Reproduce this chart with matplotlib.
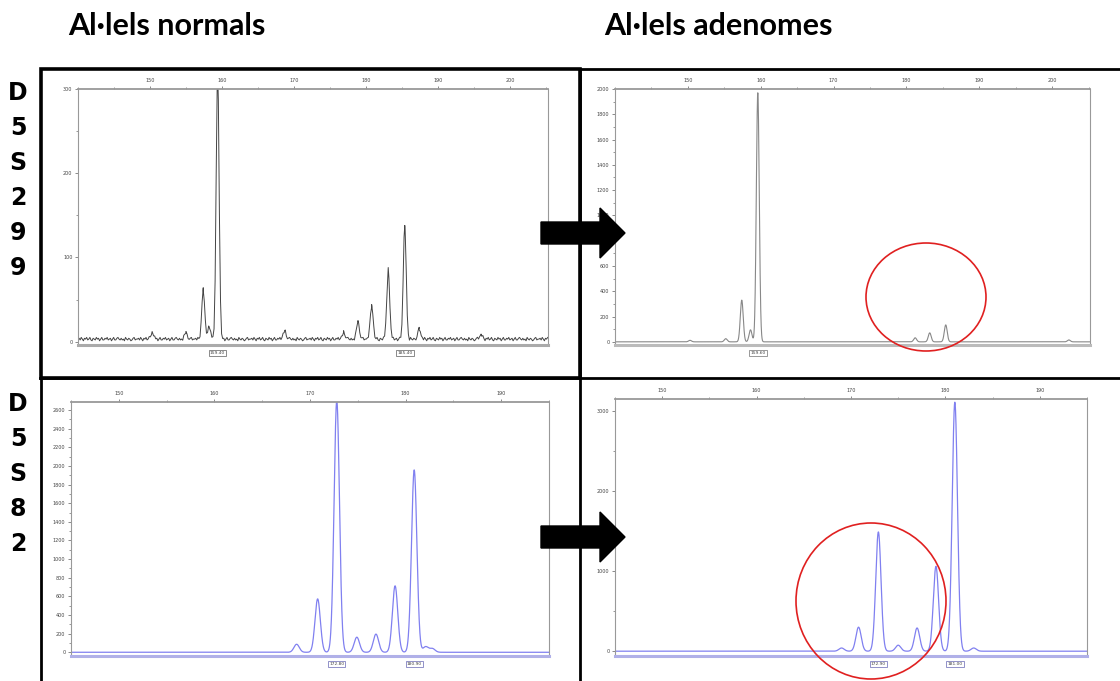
import numpy as np
import matplotlib
matplotlib.use("Agg")
import matplotlib.pyplot as plt
from matplotlib.patches import Polygon, Ellipse, Rectangle
from matplotlib.ticker import MultipleLocator, FixedLocator

W, H = 1120, 681

# --- peak tables (size in bp, height in RFU) ---
# D5S299, normal tissue
d299_norm_pos = [150.3, 155.0, 157.4, 158.2, 159.4, 168.7, 176.9, 178.9, 180.8, 183.1, 185.4, 187.4, 196.0]
d299_norm_hgt = [8, 8, 59, 15, 320, 10, 8, 21, 40, 83, 135, 12, 5]
d299_norm_called = [159.4, 185.4]
# baseline noise of the normal D5S299 run
d299_noise = [3, 4, 2, 5, 3, 1, 4, 3, 5, 2, 3, 5, 2, 1, 4, 3, 2, 5, 3, 4,
              1, 3, 5, 2, 2, 4, 3, 5, 2, 3, 4, 1, 3, 5, 2, 2, 4, 5, 3, 2,
              4, 2, 3, 1, 5, 3, 2, 4, 3, 1, 2, 4, 5, 2, 3]

# D5S299, adenoma
d299_aden_pos = [150.3, 155.2, 157.4, 158.6, 159.6, 181.2, 183.2, 185.4, 202.3]
d299_aden_hgt = [12, 25, 330, 95, 1970, 32, 71, 134, 15]
d299_aden_called = [159.6]

# D5S82, normal tissue
d82_norm_pos = [168.6, 170.8, 172.8, 174.9, 176.9, 178.9, 180.9, 182.1, 182.8]
d82_norm_hgt = [86, 573, 2700, 162, 195, 713, 1957, 60, 40]
d82_norm_called = [172.8, 180.9]

# D5S82, adenoma
d82_aden_pos = [169.0, 170.8, 172.9, 175.0, 177.0, 179.0, 181.0, 183.0]
d82_aden_hgt = [40, 300, 1490, 75, 290, 1060, 3110, 40]
d82_aden_called = [172.9, 181.0]

row_labels = [["D", "5", "S", "2", "9", "9"], ["D", "5", "S", "8", "2"]]
col_titles = ["Al·lels normals", "Al·lels adenomes"]


def rect(l, t, r, b):
    return [l / W, 1 - b / H, (r - l) / W, (b - t) / H]


def trace(x, pos, hgt, sigma):
    y = np.zeros_like(x)
    for p, h in zip(pos, hgt):
        y += h * np.exp(-0.5 * ((x - p) / sigma) ** 2)
    return y


def style(ax, xlim, ylim, xticks, ymaj, ymin, box_color):
    ax.set_xlim(*xlim)
    ax.xaxis.tick_top()
    ax.xaxis.set_major_locator(FixedLocator(xticks))
    ax.xaxis.set_minor_locator(MultipleLocator(5))
    ax.yaxis.set_major_locator(MultipleLocator(ymaj))
    ax.yaxis.set_minor_locator(MultipleLocator(ymin))
    ax.tick_params(axis="both", which="major", labelsize=3.5, length=2.5,
                   width=0.6, colors="#777", labelcolor="#444", pad=1.5)
    ax.tick_params(axis="both", which="minor", length=1.5, width=0.6, colors="#888")
    ax.set_ylim(*ylim)
    for s in ("left", "right"):
        ax.spines[s].set_color("#999")
        ax.spines[s].set_linewidth(0.8)
    ax.spines["top"].set_color("#999")
    ax.spines["top"].set_linewidth(1.3)
    ax.spines["bottom"].set_color(box_color)
    ax.spines["bottom"].set_linewidth(2.2)


def called_boxes(ax, peaks, edge):
    for p in peaks:
        ax.annotate(f"{p:.2f}", xy=(p, 0), xycoords=("data", "axes fraction"),
                    xytext=(0, -6), textcoords="offset points", ha="center",
                    va="center", fontsize=3.2, color="#444",
                    bbox=dict(boxstyle="square,pad=0.25", fc="white", ec=edge, lw=0.6))


fig = plt.figure(figsize=(W / 100, H / 100), dpi=100)
fig.patch.set_facecolor("white")

# top-left: D5S299 normal
ax1 = fig.add_axes(rect(78, 89, 548, 345))
x1 = np.sort(np.concatenate([np.arange(140, 205.3, 0.15), d299_norm_pos]))
y1 = trace(x1, d299_norm_pos, d299_norm_hgt, 0.2) + np.resize(d299_noise, x1.size)
ax1.plot(x1, y1, color="#444", lw=0.7)
style(ax1, (140, 205.3), (-4, 300), range(150, 201, 10), 100, 50, "#aaa")
called_boxes(ax1, d299_norm_called, "#777")

# top-right: D5S299 adenoma
ax2 = fig.add_axes(rect(615, 89, 1090, 345))
x2 = np.linspace(140, 205.2, 4000)
y2 = trace(x2, d299_aden_pos, d299_aden_hgt, 0.2)
ax2.plot(x2, y2, color="#888", lw=0.8)
style(ax2, (140, 205.2), (-25, 2000), range(150, 201, 10), 200, 100, "#bbb")
called_boxes(ax2, d299_aden_called, "#888")

# bottom-left: D5S82 normal
ax3 = fig.add_axes(rect(71, 402, 549, 656))
x3 = np.linspace(145, 195, 4000)
y3 = trace(x3, d82_norm_pos, d82_norm_hgt, 0.28)
ax3.plot(x3, y3, color="#8080f0", lw=0.9)
style(ax3, (145, 195), (-40, 2686), range(150, 191, 10), 200, 100, "#b0b0e8")
called_boxes(ax3, d82_norm_called, "#8080c0")

# bottom-right: D5S82 adenoma
ax4 = fig.add_axes(rect(615, 399, 1087, 656))
x4 = np.linspace(145, 195, 4000)
y4 = trace(x4, d82_aden_pos, d82_aden_hgt, 0.28)
ax4.plot(x4, y4, color="#8080f0", lw=0.9)
style(ax4, (145, 195), (-60, 3150), range(150, 191, 10), 1000, 500, "#b0b0e8")
called_boxes(ax4, d82_aden_called, "#8080c0")

# overlay in pixel coordinates: frames, arrows, circles, labels
ov = fig.add_axes([0, 0, 1, 1], zorder=10)
ov.set_xlim(0, W)
ov.set_ylim(H, 0)
ov.axis("off")
ov.patch.set_alpha(0)

ov.add_patch(Rectangle((41, 69), 539, 309, fill=False, ec="black", lw=2.6))
ov.plot([580, 1120], [69, 69], color="black", lw=2)
ov.plot([40, 1120], [378, 378], color="black", lw=2)
ov.plot([580, 580], [69, 681], color="black", lw=2)
ov.plot([41, 41], [378, 681], color="black", lw=2)

for cy in (233, 537):
    arrow = [(541, cy - 11), (600, cy - 11), (600, cy - 25), (625, cy),
             (600, cy + 25), (600, cy + 11), (541, cy + 11)]
    ov.add_patch(Polygon(arrow, closed=True, fc="black", ec="black"))

ov.add_patch(Ellipse((926, 297), 120, 108, fill=False, ec="#e02020", lw=1.2))
ov.add_patch(Ellipse((871, 601), 150, 156, fill=False, ec="#e02020", lw=1.2))

ov.text(68, 26, col_titles[0], fontsize=22, fontweight="bold", family="Lato",
        ha="left", va="center")
ov.text(604, 26, col_titles[1], fontsize=22, fontweight="bold", family="Lato",
        ha="left", va="center")

for i, ch in enumerate(row_labels[0]):
    ov.text(18, 93 + i * 35, ch, fontsize=17, fontweight="bold", ha="center", va="center")
for i, ch in enumerate(row_labels[1]):
    ov.text(18, 404 + i * 35, ch, fontsize=17, fontweight="bold", ha="center", va="center")

fig.savefig("out.png", dpi=100)
